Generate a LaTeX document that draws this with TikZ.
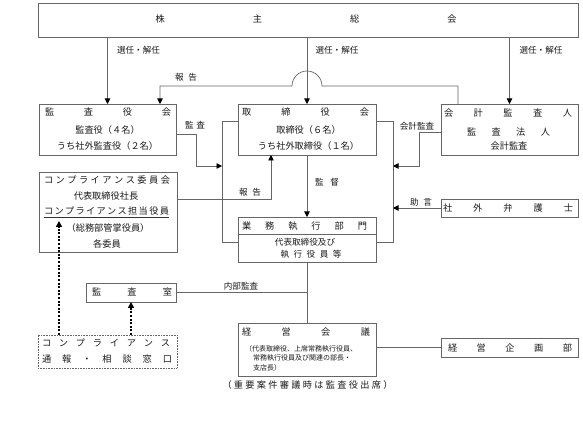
\documentclass[tikz,border=0pt]{standalone}
\usepackage{fontspec}
\setmainfont{Noto Sans CJK JP}
\usetikzlibrary{arrows.meta}
\newcommand{\spr}[2]{\makebox[#1][s]{#2}}
\newcommand{\hg}{\hfill}
\begin{document}
\begin{tikzpicture}[x=1pt,y=-1pt,
 box/.style={draw=black!60,line width=0.7pt,inner sep=0pt,outer sep=0pt},
 ln/.style={draw=black!60,line width=0.7pt},
 arr/.style={ln,-{Triangle[length=5.5pt,width=5.5pt,color=black]}},
 dotarr/.style={draw=black,line width=2pt,dash pattern=on 2pt off 1.6pt,-{Triangle[length=6pt,width=6pt,color=black]}},
 txt/.style={inner sep=0pt,text=black!90,font=\fontsize{9.2}{10}\selectfont},
 lbl/.style={inner sep=0pt,text=black!90,font=\fontsize{8.6}{10}\selectfont},
 smalltxt/.style={inner sep=0pt,text=black!90,font=\fontsize{7}{8}\selectfont,anchor=west}]
\useasboundingbox (0,0) rectangle (583,427);

% boxes
\node[box,minimum width=540pt,minimum height=34pt] (share) at (308,20) {};
\node[box,minimum width=137pt,minimum height=51pt] (kansayaku) at (107.5,129.5) {};
\node[box,minimum width=138pt,minimum height=51pt] (torishimari) at (307,129.5) {};
\node[box,minimum width=137pt,minimum height=51pt] (kaikei) at (509.5,129.5) {};
\node[box,minimum width=138pt,minimum height=80pt] (compl) at (108,212) {};
\node[box,minimum width=138pt,minimum height=45pt] (gyomu) at (307,239.5) {};
\node[box,minimum width=137pt,minimum height=18pt] (bengoshi) at (509.5,208) {};
\node[box,minimum width=90pt,minimum height=19pt] (kansashitsu) at (131,292.5) {};
\node[box,draw=black!60,line width=0.6pt,dash pattern=on 0.8pt off 0.8pt,minimum width=139pt,minimum height=33pt] (tsuho) at (107.5,351.5) {};
\node[box,minimum width=138pt,minimum height=53pt] (keiei) at (307,349.5) {};
\node[box,minimum width=137pt,minimum height=19pt] (kikaku) at (509.5,347.5) {};

% box texts
\node[txt] (t-share) at (306,19) {\spr{301pt}{株\hg{}主\hg{}総\hg{}会}};
\node[txt] (t-ky1) at (108,112) {\spr{126pt}{監\hg{}査\hg{}役\hg{}会}};
\node[txt] (t-ky2) at (107.5,130) {監査役（４名）};
\node[txt] (t-ky3) at (107.5,146) {うち社外監査役（２名）};
\node[txt] (t-tr1) at (305.5,112) {\spr{127pt}{取\hg{}締\hg{}役\hg{}会}};
\node[txt] (t-tr2) at (308.5,130) {取締役（６名）};
\node[txt] (t-tr3) at (308.5,146) {うち社外取締役（１名）};
\node[txt] (t-kk1) at (508,113) {\spr{128pt}{会\hg{}計\hg{}監\hg{}査\hg{}人}};
\node[txt] (t-kk2) at (508.5,132) {\spr{83pt}{監\hg{}査\hg{}法\hg{}人}};
\node[txt] (t-kk3) at (509,146) {会計監査};
\node[txt] (t-cp1) at (107,180) {\spr{126pt}{コ\hg{}ン\hg{}プ\hg{}ラ\hg{}イ\hg{}ア\hg{}ン\hg{}ス\hg{}委\hg{}員\hg{}会}};
\node[txt] (t-cp2) at (106,196) {代表取締役社長};
\node[txt] (t-cp3) at (106.5,211) {\spr{125pt}{コ\hg{}ン\hg{}プ\hg{}ラ\hg{}イ\hg{}ア\hg{}ン\hg{}ス\hg{}担\hg{}当\hg{}役\hg{}員}};
\draw[draw=black!80,line width=0.6pt] (t-cp3.south west) ++(0,1.5) coordinate (ul1) -- (ul1 -| t-cp3.south east);
\node[txt] (t-cp4) at (108,228) {（総務部管掌役員）};
\node[txt] (t-cp5) at (107,244) {各委員};
\node[txt] (t-gy1) at (304.5,226) {\spr{125pt}{業\hg{}務\hg{}執\hg{}行\hg{}部\hg{}門}};
\draw[ln] ([yshift=-17pt]gyomu.north west) -- ([yshift=-17pt]gyomu.north east);
\node[lbl] (t-gy2) at (305,242) {代表取締役及び};
\node[lbl] (t-gy3) at (311,254) {\spr{61pt}{執\hg{}行\hg{}役\hg{}員\hg{}等}};
\node[txt] (t-bg) at (508,208) {\spr{130pt}{社\hg{}外\hg{}弁\hg{}護\hg{}士}};
\node[txt] (t-ks) at (132,292) {\spr{80pt}{監\hg{}査\hg{}室}};
\node[txt] (t-ts1) at (106,343) {\spr{128pt}{コ\hg{}ン\hg{}プ\hg{}ラ\hg{}イ\hg{}ア\hg{}ン\hg{}ス}};
\node[txt] (t-ts2) at (107,359) {\spr{130pt}{通\hg{}報\hg{}・\hg{}相\hg{}談\hg{}窓\hg{}口}};
\node[txt] (t-ke1) at (306,332) {\spr{128pt}{経\hg{}営\hg{}会\hg{}議}};
\node[smalltxt] (t-ke2) at (245,349) {（代表取締役、上席常務執行役員、};
\node[smalltxt] (t-ke3) at (253,358) {常務執行役員及び関連の部長・};
\node[smalltxt] (t-ke4) at (253,368) {支店長）};
\node[txt] (t-kp) at (510,347.5) {\spr{124pt}{経\hg{}営\hg{}企\hg{}画\hg{}部}};
\node[txt] (t-cap) at (307.5,385) {\spr{170pt}{（\hg{}重\hg{}要\hg{}案\hg{}件\hg{}審\hg{}議\hg{}時\hg{}は\hg{}監\hg{}査\hg{}役\hg{}出\hg{}席\hg{}）}};

% connector labels
\node[lbl] (l-sn1) at (138.5,50) {選任・解任};
\node[lbl] (l-sn2) at (337,50) {選任・解任};
\node[lbl] (l-sn3) at (541,50) {選任・解任};
\node[lbl] (l-hk1) at (186,77) {\spr{22pt}{報\hg{}告}};
\node[lbl] (l-ks) at (195,125) {\spr{20pt}{監\hg{}査}};
\node[lbl] (l-kk) at (417,126) {会計監査};
\node[lbl] (l-hk2) at (250,192) {\spr{22pt}{報\hg{}告}};
\node[lbl] (l-kt) at (327,182) {\spr{24pt}{監\hg{}督}};
\node[lbl] (l-jg) at (421,202) {\spr{22pt}{助\hg{}言}};
\node[lbl] (l-nb) at (241,286) {内部監査};

% coordinates
\coordinate (r1) at (458,86);
\coordinate (r2) at (322,86);
\coordinate (r3) at (160,86);
\coordinate (a1) at (196,134);
\coordinate (a2) at (196,166);
\coordinate (L1) at (222,121);
\coordinate (L2) at (222,242);
\coordinate (R1) at (393,121);
\coordinate (R2) at (393,242);
\coordinate (k1) at (419,132);
\coordinate (k2) at (419,166);
\coordinate (c1) at (271,199);
\coordinate (d1) at (59,221);

% connectors
\draw[arr] (share.south -| kansayaku.north) -- (kansayaku.north);
\draw[arr] (share.south -| torishimari.north) -- (torishimari.north);
\draw[arr] (share.south -| kaikei.north) -- (kaikei.north);
\draw[arr] (kaikei.north -| r1) -- (r1) -- (r2) arc[start angle=0,end angle=-180,radius=15] -- (r3) -- (r3 |- kansayaku.north);
\draw[arr] (a1 -| kansayaku.east) -- (a1) -- (a2) -- (a2 -| L1);
\draw[ln] (L1 -| torishimari.west) -- (L1) -- (L2) -- (L2 -| gyomu.west);
\draw[ln] (R1 -| torishimari.east) -- (R1) -- (R2) -- (R2 -| gyomu.east);
\draw[arr] (k1 -| kaikei.west) -- (k1) -- (k2) -- (k2 -| R1);
\draw[arr] (bengoshi.west) -- (bengoshi.west -| R1);
\draw[arr] (torishimari.south) -- (gyomu.north);
\draw[arr] (c1 -| compl.east) -- (c1) -- (c1 |- torishimari.south);
\draw[ln] (gyomu.south) -- (keiei.north);
\draw[ln] (kansashitsu.east) -- (kansashitsu.east -| keiei.north);
\draw[ln] (kikaku.west -| keiei.east) -- (kikaku.west);
\draw[dotarr] (d1 |- tsuho.north) -- (d1);
\draw[dotarr] (kansashitsu.south |- tsuho.north) -- (kansashitsu.south);
\end{tikzpicture}
\end{document}
